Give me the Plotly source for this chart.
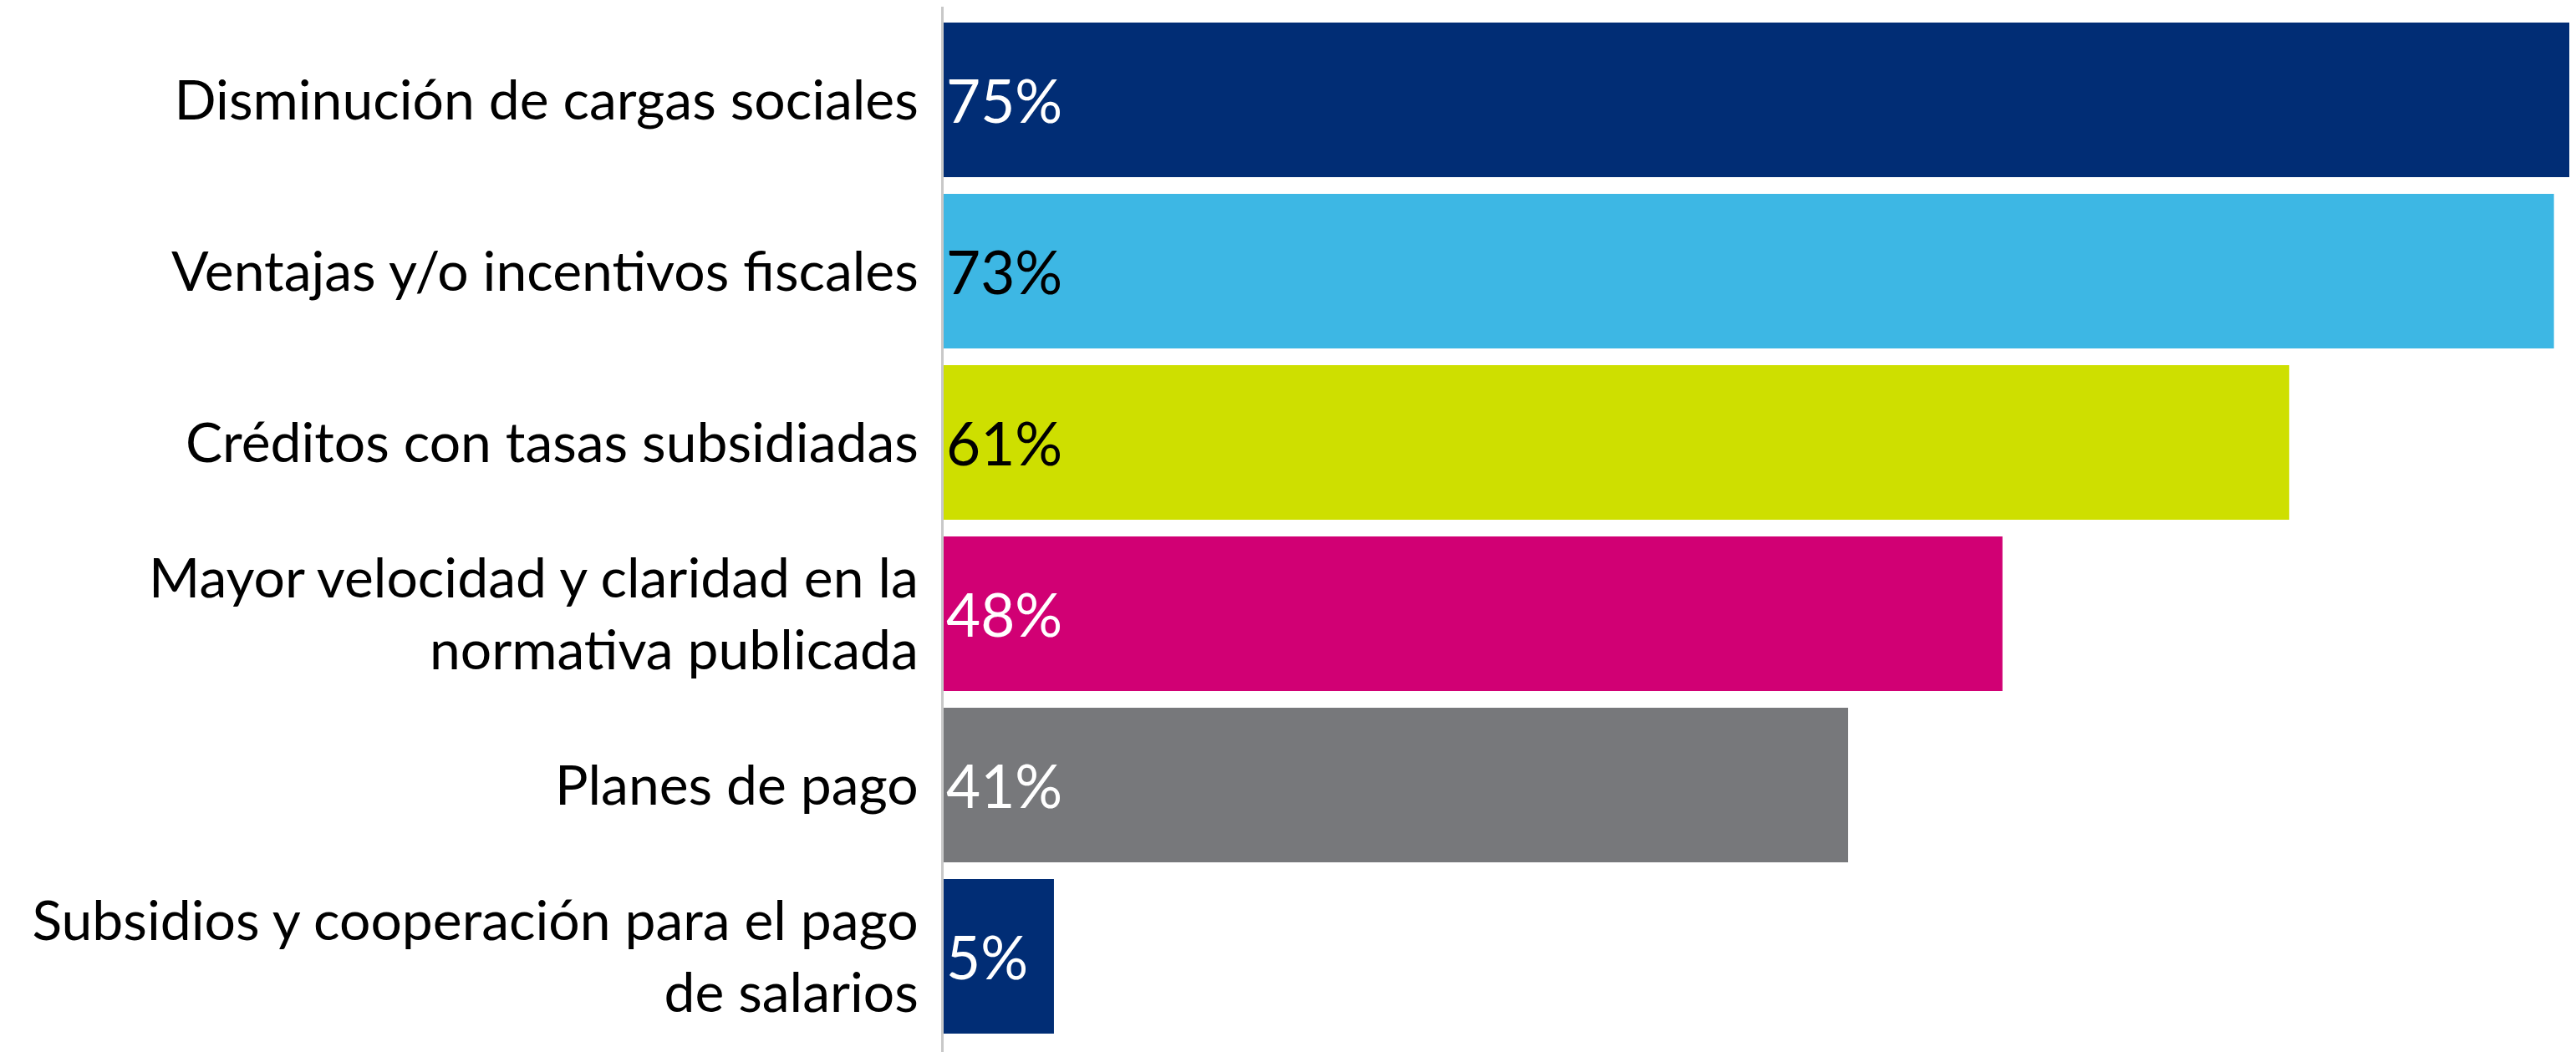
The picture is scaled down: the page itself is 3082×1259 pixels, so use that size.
import plotly.graph_objects as go

categories = [
    "Disminución de cargas sociales",
    "Ventajas y/o incentivos fiscales",
    "Créditos con tasas subsidiadas",
    "Mayor velocidad y claridad en la<br>normativa publicada",
    "Planes de pago",
    "Subsidios y cooperación para el pago<br>de salarios",
]
values = [75, 73, 61, 48, 41, 5]
bar_colors = ["#012d75", "#3db7e4", "#cedf00", "#d10074", "#77787b", "#012d75"]
text_colors = ["white", "black", "black", "white", "white", "white"]

FONT = "Lato, 'Open Sans', sans-serif"

fig = go.Figure(go.Bar(
    x=values,
    y=categories,
    orientation="h",
    marker=dict(color=bar_colors, line=dict(width=0)),
    text=[f"{v}%" for v in values],
    textposition="inside",
    insidetextanchor="start",
    insidetextfont=dict(family=FONT, size=71, color=text_colors),
    hoverinfo="skip",
))

# the page body adds an 8px margin, so the figure is shifted left/up by 8
fig.update_layout(
    width=3082, height=1259,
    margin=dict(l=1121, r=8, t=0, b=0),
    plot_bgcolor="white", paper_bgcolor="white",
    bargap=0.0976,
    showlegend=False,
    font=dict(family=FONT, size=66, color="black"),
)
fig.update_xaxes(range=[0, 74], visible=False, showgrid=False, zeroline=False)
fig.update_yaxes(
    range=[5.597, -0.544],
    showline=True, linecolor="#c8c8c8", linewidth=3,
    showgrid=False, zeroline=False,
    ticks="", ticklabelstandoff=14,
    tickfont=dict(family=FONT, size=66, color="black"),
)

fig.write_html("out.html")
